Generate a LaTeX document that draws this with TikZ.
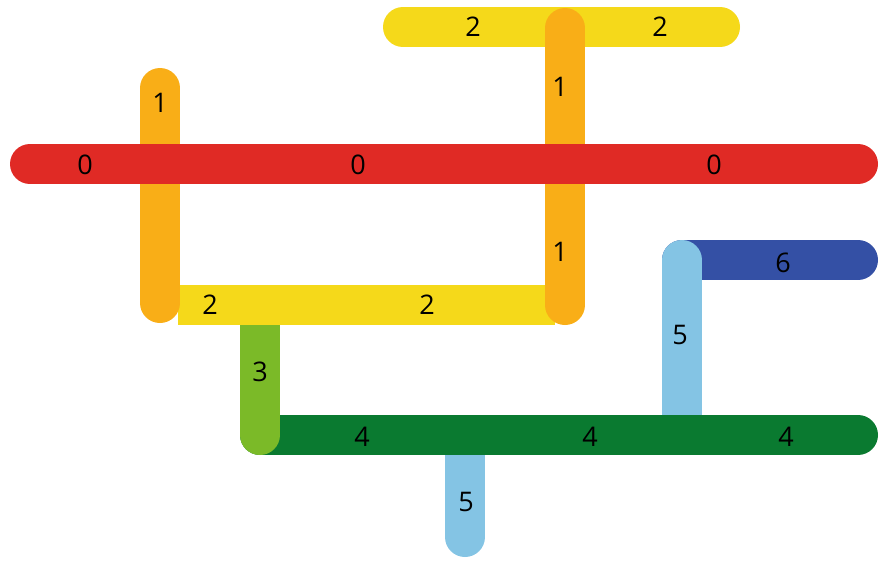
\documentclass[tikz,border=0pt]{standalone}
\usepackage{fontspec}
\setmainfont{Open Sans}
\definecolor{barred}{HTML}{E02A25}
\definecolor{barorange}{HTML}{F9AE17}
\definecolor{baryellow}{HTML}{F5D91A}
\definecolor{barlgreen}{HTML}{7BBA28}
\definecolor{bardgreen}{HTML}{0A7A30}
\definecolor{barlblue}{HTML}{84C4E4}
\definecolor{bardblue}{HTML}{3450A5}

\begin{document}
\begin{tikzpicture}[x=1pt, y=-1pt,
		bar/.style={line width=40pt, line cap=round},
		num/.style={font=\fontsize{27}{27}\selectfont, text=black}]
			%%%%% START %%%%%
			\useasboundingbox (0, 0) rectangle (885, 560);
			
			% blue pair
			\draw[bar, color=bardblue] (682, 260) -- (858, 260);
			\draw[bar, color=barlblue] (682, 260) -- (682, 435);
			\draw[bar, color=barlblue] (465, 435) -- (465, 537);
			
			% green pair
			\draw[bar, color=bardgreen] (260, 435) -- (858, 435);
			\draw[bar, color=barlgreen] (260, 305) -- (260, 435);
			
			% yellow and orange
			\draw[bar, line cap=butt, color=baryellow] (178, 305) -- (555, 305);
			\draw[bar, color=barorange] (160, 88) -- (160, 303);
			\draw[bar, color=baryellow] (403, 27) -- (720, 27);
			\draw[bar, color=barorange] (565, 28) -- (565, 305);
			
			% red
			\draw[bar, color=barred] (30, 164) -- (858, 164);
			
			% numbers
			\node[num] (r0a) at (85, 165) {0};
			\node[num] (r0b) at (358, 165) {0};
			\node[num] (r0c) at (714, 165) {0};
			\node[num] (o1a) at (160, 103) {1};
			\node[num] (o1b) at (560, 87) {1};
			\node[num] (o1c) at (560, 252) {1};
			\node[num] (y2a) at (473, 27) {2};
			\node[num] (y2b) at (660, 27) {2};
			\node[num] (y2c) at (210, 305) {2};
			\node[num] (y2d) at (427, 305) {2};
			\node[num] (g3) at (260, 372) {3};
			\node[num] (g4a) at (362, 437) {4};
			\node[num] (g4b) at (590, 437) {4};
			\node[num] (g4c) at (786, 437) {4};
			\node[num] (b5a) at (680, 335) {5};
			\node[num] (b5b) at (466, 502) {5};
			\node[num] (b6) at (783, 263) {6};
			
			%%%%% END %%%%%
\end{tikzpicture}
\end{document}
